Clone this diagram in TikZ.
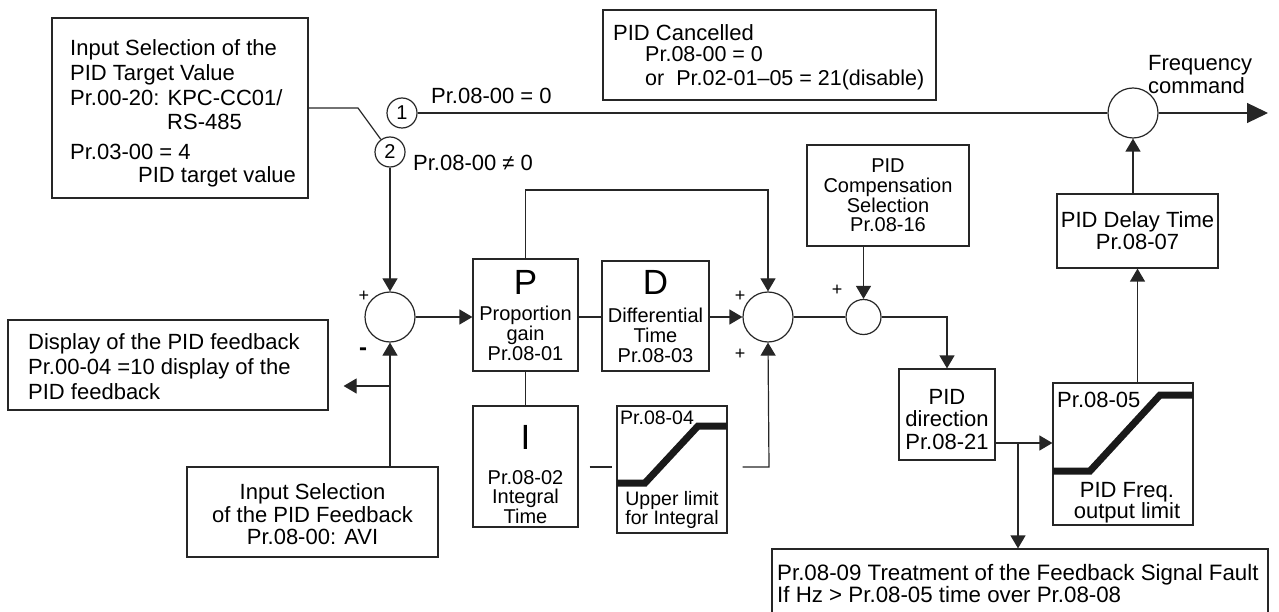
\documentclass[tikz,border=0pt]{standalone}
\usepackage{fontspec}
\setmainfont{Liberation Sans}
\usetikzlibrary{arrows.meta}
\begin{document}
\begin{tikzpicture}[x=1pt,y=-1pt,
  ln/.style={line width=1.2pt, draw=black!85},
  arr/.style={ln, -{Triangle[length=13pt,width=15pt]}},
  bigarr/.style={ln, -{Triangle[length=21pt,width=20pt]}},
  box/.style={draw=black!85, line width=1.2pt, rectangle, inner sep=0pt},
  sumc/.style={draw=black!85, line width=1.2pt, circle, inner sep=0pt, minimum size=50pt},
  selc/.style={draw=black!85, line width=1.2pt, circle, inner sep=0pt, minimum size=30pt, font=\fontsize{20}{20}\selectfont},
  txt/.style={inner sep=0pt, font=\fontsize{22}{25}\selectfont},
  txs/.style={inner sep=0pt, align=center, font=\fontsize{20}{20}\selectfont},
  big/.style={inner sep=0pt, font=\fontsize{35}{35}\selectfont},
  pm/.style={inner sep=0pt, font=\fontsize{18}{18}\selectfont},
  thick/.style={line width=7pt, draw=black!90}
]
\useasboundingbox (0,0) rectangle (1279,612);

% ---------- top-left target box ----------
\node[box, minimum width=256pt, minimum height=180pt] (tl) at (180,108) {};
\node[txt, anchor=west, align=left] (tlA) at (70,73) {Input Selection of the\\PID Target Value\\Pr.00-20: KPC-CC01/};
\node[txt, anchor=west] (tlB) at (167,122) {RS-485};
\node[txt, anchor=west] (tlC) at (70,152) {Pr.03-00 = 4};
\node[txt, anchor=west] (tlD) at (138,177) {PID target value};

% ---------- selector ----------
\node[selc] (c1) at (402,113) {1};
\node[selc] (c2) at (390,152) {2};
\coordinate (k1) at (358,108);
\node[txt, anchor=west] (l0) at (431,96) {Pr.08-00 = 0};
\node[txt, anchor=west] (l1) at (413,163) {Pr.08-00 ≠ 0};

% ---------- PID cancelled ----------
\node[box, minimum width=333pt, minimum height=90pt] (canc) at (769.5,55) {};
\node[txt, anchor=west] (cA) at (613,33) {PID Cancelled};
\node[txt, anchor=west, align=left, font=\fontsize{21.5}{24}\selectfont] (cB) at (645,68) {Pr.08-00 = 0\\or\ \ Pr.02-01–05 = 21(disable)};

% ---------- frequency command ----------
\node[sumc] (fc) at (1133,113) {};
\coordinate (out) at (1268,113);
\node[txt, anchor=west, align=left, font=\fontsize{22}{23}\selectfont] (fq) at (1148,74.5) {Frequency\\command};

% ---------- delay ----------
\node[box, minimum width=161pt, minimum height=74pt, align=center, font=\fontsize{22}{22}\selectfont] (delay) at (1137.5,231) {PID Delay Time\\Pr.08-07};

% ---------- compensation ----------
\node[box, minimum width=162pt, minimum height=101pt, align=center, font=\fontsize{20}{19.7}\selectfont] (comp) at (888,195.5) {PID\\Compensation\\Selection\\Pr.08-16};

% ---------- sums ----------
\node[sumc] (sum1) at (390,317) {};
\node[sumc] (sum2) at (768,317) {};
\node[sumc, minimum size=35pt] (sum3) at (863.5,317) {};
\node[pm] (p1) at (364,296) {+};
\node[inner sep=0pt, font=\fontsize{24}{24}\selectfont\bfseries] (m1) at (363,352) {-};
\node[pm] (p2) at (740,296) {+};
\node[pm] (p3) at (740,354) {+};
\node[pm] (p4) at (837,290) {+};

% ---------- P, D, I ----------
\node[box, minimum width=105pt, minimum height=112pt] (P) at (525.5,315) {};
\node[big] (Pl) at (525.5,282) {P};
\node[txs] (Pt) at (525.5,333) {Proportion\\gain\\Pr.08-01};

\node[box, minimum width=107pt, minimum height=110pt] (D) at (655.5,316) {};
\node[big] (Dl) at (655.5,282) {D};
\node[txs] (Dt) at (655.5,335) {Differential\\Time\\Pr.08-03};

\node[box, minimum width=105pt, minimum height=121pt] (I) at (525.5,466.5) {};
\node[big] (Il) at (525.5,437) {I};
\node[txs, font=\fontsize{20}{19.5}\selectfont] (It) at (525.5,497) {Pr.08-02\\Integral\\Time};

\node[box, minimum width=110pt, minimum height=127pt] (UL) at (672,469.5) {};
\node[inner sep=0pt, anchor=west, font=\fontsize{19.5}{19.5}\selectfont] (ULa) at (620,418) {Pr.08-04};
\node[txs, font=\fontsize{19.5}{19}\selectfont] (ULt) at (672,509.5) {Upper limit\\for Integral};
\draw[thick] (617,483) -- (645,483) -- (698,426) -- (727,426);

% ---------- direction, limit, fault ----------
\node[box, minimum width=96pt, minimum height=91pt] (dir) at (947,414.5) {};
\node[txt, align=center, font=\fontsize{22}{22.5}\selectfont] (dirt) at (947,419.5) {PID\\direction\\Pr.08-21};

\node[box, minimum width=140pt, minimum height=142pt] (lim) at (1123,454) {};
\node[txt, anchor=west] (lima) at (1057,400) {Pr.08-05};
\node[txt, align=center, font=\fontsize{22}{21}\selectfont] (limt) at (1127,502.5) {PID Freq.\\output limit};
\draw[thick] (1053,471) -- (1090,471) -- (1160,395) -- (1193,395);

\node[box, minimum width=496pt, minimum height=66pt] (fault) at (1020,582) {};
\node[txt, anchor=west, align=left, font=\fontsize{22.3}{22}\selectfont] (ft) at (777,584) {Pr.08-09 Treatment of the Feedback Signal Fault\\If Hz > Pr.08-05 time over Pr.08-08};

% ---------- feedback side ----------
\node[box, minimum width=320pt, minimum height=90pt] (disp) at (168,365) {};
\node[txt, anchor=west, align=left] (dispt) at (28,367) {Display of the PID feedback\\Pr.00-04 =10 display of the\\PID feedback};

\node[box, minimum width=251pt, minimum height=90pt] (fb) at (312.5,512) {};
\node[txt, align=center, font=\fontsize{22}{22.5}\selectfont] (fbt) at (312.5,514.5) {Input Selection\\of the PID Feedback\\Pr.08-00: AVI};

% ---------- connectors ----------
\draw[ln] (tl.east) -- (k1) -- (c2);
\draw[ln] (c1.east) -- (fc.west);
\draw[bigarr] (fc.east) -- (out);
\draw[arr] (c2.south) -- (sum1.north);
\draw[arr] (sum1.east) -- (sum1.east -| P.west);
\draw[ln] (P.east |- sum1.east) -- (D.west |- sum1.east);
\draw[arr] (D.east |- sum2.west) -- (sum2.west);
\coordinate (k2) at (768,190);
\draw[arr] (P.north) |- (k2) -- (sum2.north);
\draw[ln] (P.south) -- (I.north);
\coordinate (k3) at (769,467);
\draw[ln, shorten <=11pt, shorten >=4pt] (I.east |- k3) -- (UL.west |- k3);
\draw[arr, shorten <=15pt] (UL.east |- k3) -- (k3) -- (sum2.south);
\draw[ln] (sum2.east) -- (sum3.west);
\draw[arr] (comp.south -| sum3.north) -- (sum3.north);
\draw[arr] (sum3.east) -| (dir.north);
\coordinate (j) at (1018,443);
\draw[ln] (dir.east |- j) -- (j);
\draw[arr] (j) -- (j -| lim.west);
\draw[arr] (j) -- (j |- fault.north);
\draw[arr] (lim.north -| delay.south) -- (delay.south);
\draw[arr] (delay.north -| fc.south) -- (fc.south);
\draw[arr] (fb.north -| sum1.south) -- (sum1.south);
\coordinate (j2) at (390,386);
\draw[arr, shorten >=15pt] (j2) -- (j2 -| disp.east);
\end{tikzpicture}
\end{document}
